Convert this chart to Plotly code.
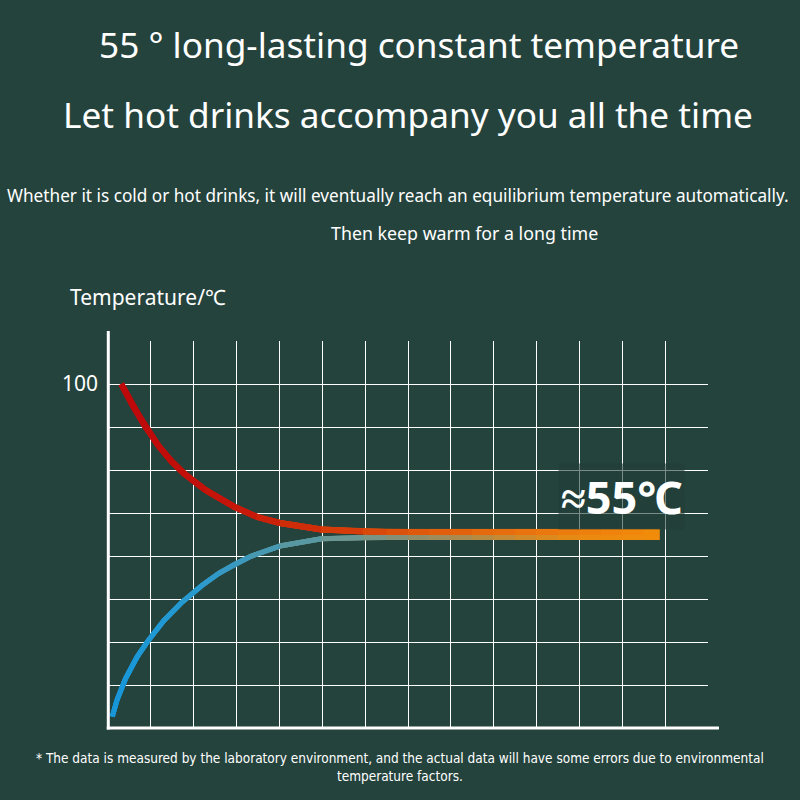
import plotly.graph_objects as go

# ---------------- data ----------------
hot_x = [0.31, 0.60, 0.87, 1.18, 1.49, 1.80, 2.27, 2.93, 3.47, 4.01, 4.98, 5.95,
         6.5, 7.0, 7.5, 8.0, 8.5, 9.0, 9.5, 10.0, 10.5, 11.0, 11.5, 12.0, 12.5, 12.87]
hot_y = [100.0, 93.2, 87.6, 82.0, 77.4, 73.7, 69.2, 64.4, 61.4, 59.6, 57.7, 57.1,
         57.0, 57.0, 57.0, 57.0, 57.0, 57.0, 57.0, 57.0, 57.0, 57.0, 57.0, 57.0, 57.0, 57.0]

cold_x = [0.10, 0.21, 0.41, 0.68, 0.95, 1.30, 1.73, 2.19, 2.58, 2.97, 3.31, 4.01, 4.98, 5.95,
          6.5, 7.0, 7.5, 8.0, 8.5, 9.0, 9.5, 10.0, 10.5, 11.0, 11.5, 12.0, 12.5, 12.87]
cold_y = [3.3, 8.1, 14.4, 20.7, 25.6, 31.2, 36.6, 41.4, 44.9, 47.7, 49.8, 52.9, 55.0, 55.4,
          55.4, 55.4, 55.4, 55.4, 55.4, 55.4, 55.4, 55.4, 55.4, 55.4, 55.4, 55.4, 55.4, 55.4]

grid_x = list(range(1, 15))
grid_y = [12.5, 25, 37.5, 50, 62.5, 75, 87.5, 100, 112.5]
grid_y_text = ["", "", "", "", "", "", "", "100", ""]

title1 = "55 ° long-lasting constant temperature"
title2 = "Let hot drinks accompany you all the time"
sub1 = "Whether it is cold or hot drinks, it will eventually reach an equilibrium temperature automatically."
sub2 = "Then keep warm for a long time"
ylabel = "Temperature/℃"
eq_label = "≈55℃"
footnote = ("* The data is measured by the laboratory environment, and the actual data will have some errors due to environmental"
            "<br>temperature factors.")

# ---------------- styles ----------------
BG = "#25433d"
hot_stops = [(0.3, (188, 8, 10)), (3.0, (198, 22, 10)), (5.0, (210, 52, 10)),
             (7.0, (222, 86, 12)), (10.0, (234, 118, 14)), (12.87, (242, 140, 10))]
cold_stops = [(0.1, (22, 150, 216)), (2.0, (40, 154, 206)), (3.0, (58, 152, 192)),
              (4.0, (78, 152, 170)), (5.0, (98, 152, 154)), (6.0, (116, 150, 138)),
              (7.0, (140, 142, 112)), (8.5, (176, 138, 72)), (10.0, (216, 138, 34)),
              (11.0, (234, 138, 18)), (12.87, (242, 140, 10))]


def color_at(x, stops):
    if x <= stops[0][0]:
        c = stops[0][1]
    elif x >= stops[-1][0]:
        c = stops[-1][1]
    else:
        for (x0, c0), (x1, c1) in zip(stops[:-1], stops[1:]):
            if x0 <= x <= x1:
                t = (x - x0) / (x1 - x0)
                c = tuple(round(a + (b - a) * t) for a, b in zip(c0, c1))
                break
    return "rgb(%d,%d,%d)" % c


fig = go.Figure()


def add_curve(xs, ys, stops, width):
    for i in range(len(xs) - 1):
        xm = (xs[i] + xs[i + 1]) / 2
        col = color_at(xm, stops)
        # slightly extended underlay to hide joints
        fig.add_trace(go.Scatter(x=xs[max(i - 1, 0):i + 2], y=ys[max(i - 1, 0):i + 2], mode="lines",
                                 hoverinfo="skip", line=dict(color=col, width=width)))
    for i in range(len(xs) - 1):
        xm = (xs[i] + xs[i + 1]) / 2
        fig.add_trace(go.Scatter(x=[xs[i], xs[i + 1]], y=[ys[i], ys[i + 1]], mode="lines",
                                 hoverinfo="skip", line=dict(color=color_at(xm, stops), width=width)))


add_curve(cold_x, cold_y, cold_stops, 5)
add_curve(hot_x, hot_y, hot_stops, 6)

L, R, T, B = 107.5, 708.0, 341.0, 728.0
W, H = R - L, B - T


def px(x):
    return (x - L) / W


def py(y):
    return (B - y) / H


fig.update_layout(
    width=800, height=800, autosize=False,
    margin=dict(l=L, r=800 - R, t=T, b=800 - B, pad=0),
    paper_bgcolor=BG, plot_bgcolor=BG,
    showlegend=False,
    font=dict(family="Noto Sans", color="white"),
    xaxis=dict(range=[0, 14], tickvals=grid_x, showticklabels=False, ticks="",
               showgrid=True, gridcolor="white", gridwidth=1.3, zeroline=False, showline=False,
               fixedrange=True),
    yaxis=dict(range=[0, 112.5], tickvals=grid_y, ticktext=grid_y_text, ticks="",
               tickfont=dict(size=21, color="white", family="Noto Sans"), ticklabelstandoff=9,
               showgrid=True, gridcolor="white", gridwidth=1.3, zeroline=False, showline=False,
               fixedrange=True),
    shapes=[
        dict(type="line", xref="paper", yref="paper", x0=px(107.8), x1=px(107.8), y0=py(729.5), y1=py(331),
             line=dict(color="white", width=3)),
        dict(type="line", xref="paper", yref="paper", x0=px(106.3), x1=px(719), y0=py(728), y1=py(728),
             line=dict(color="white", width=3)),
    ],
    annotations=[
        dict(text=title1, xref="paper", yref="paper", x=px(419), y=py(43.5), xanchor="center", yanchor="middle",
             showarrow=False, font=dict(size=35.2, color="white", family="Noto Sans")),
        dict(text=title2, xref="paper", yref="paper", x=px(407.5), y=py(113.5), xanchor="center", yanchor="middle",
             showarrow=False, font=dict(size=35.2, color="white", family="Noto Sans")),
        dict(text=sub1, xref="paper", yref="paper", x=px(398), y=py(196), xanchor="center", yanchor="middle",
             showarrow=False, font=dict(size=17.2, color="white", family="Noto Sans")),
        dict(text=sub2, xref="paper", yref="paper", x=px(464.5), y=py(232.5), xanchor="center", yanchor="middle",
             showarrow=False, font=dict(size=17.8, color="white", family="Noto Sans")),
        dict(text=ylabel, xref="paper", yref="paper", x=px(67), y=py(296.5), xanchor="left", yanchor="middle",
             showarrow=False, font=dict(size=21, color="white", family="Noto Sans")),
        dict(text="<b>" + eq_label + "</b>", xref="paper", yref="paper", x=px(621.5), y=py(496),
             xanchor="center", yanchor="middle", showarrow=False, bgcolor="rgba(34,62,56,0.6)",
             borderpad=2, font=dict(size=45, color="white", family="Noto Sans")),
        dict(text=footnote, xref="paper", yref="paper", x=px(400), y=py(766.5), xanchor="center", yanchor="middle",
             align="center", showarrow=False,
             font=dict(size=13.5, color="white", family="DejaVu Sans Condensed, DejaVu Sans")),
    ],
)

fig.write_html("out.html")
